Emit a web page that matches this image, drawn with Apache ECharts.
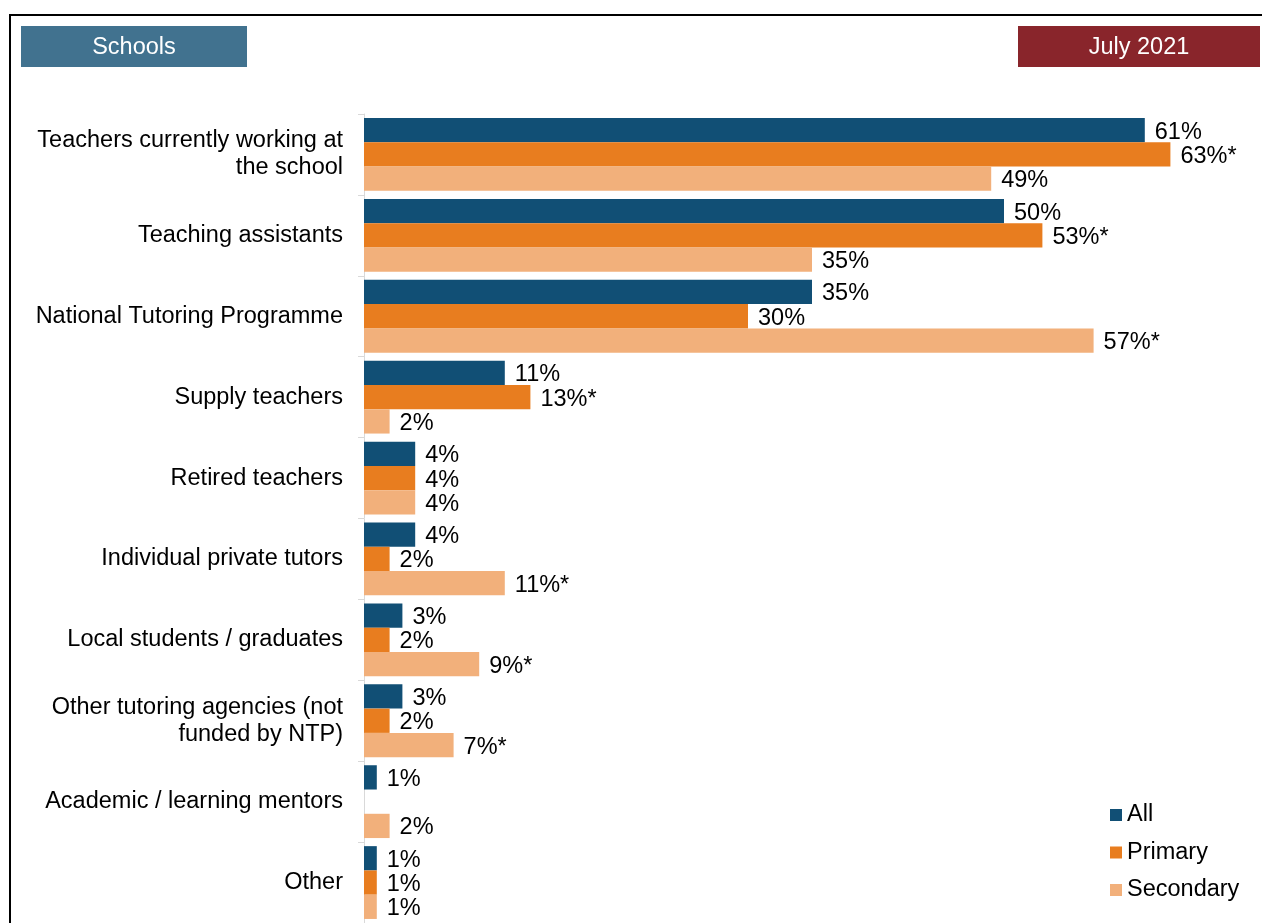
<!DOCTYPE html>
<html>
<head>
<meta charset="utf-8">
<script src="https://cdn.jsdelivr.net/npm/echarts@6/dist/echarts.min.js"></script>
<style>
html,body{margin:0;padding:0;background:#fff;}
#chart{width:1262px;height:923px;}
</style>
</head>
<body>
<div id="chart"></div>
<script>
const categories = [
  "Teachers currently working at\nthe school",
  "Teaching assistants",
  "National Tutoring Programme",
  "Supply teachers",
  "Retired teachers",
  "Individual private tutors",
  "Local students / graduates",
  "Other tutoring agencies (not\nfunded by NTP)",
  "Academic / learning mentors",
  "Other"
];
const seriesNames = ["All", "Primary", "Secondary"];
const allValues = [61, 50, 35, 11, 4, 4, 3, 3, 1, 1];
const primaryValues = [63, 53, 30, 13, 4, 2, 2, 2, null, 1];
const secondaryValues = [49, 35, 57, 2, 4, 11, 9, 7, 2, 1];
const allSig = [false, false, false, false, false, false, false, false, false, false];
const primarySig = [true, true, false, true, false, false, false, false, false, false];
const secondarySig = [false, false, true, false, false, true, true, true, false, false];
const headerLeft = "Schools";
const headerRight = "July 2021";

const colors = ["#114f75", "#e87d1f", "#f2b07b"];
const font = "Arial, 'Liberation Sans', sans-serif";
const fs = 23.5;

function mkSeries(name, values, sig, color) {
  return {
    name: name,
    type: "bar",
    data: values,
    barGap: "0%",
    barCategoryGap: "10%",
    itemStyle: { color: color },
    label: {
      show: true,
      position: "right",
      distance: 10,
      offset: [0, 2],
      color: "#000",
      fontSize: fs,
      fontFamily: font,
      formatter: function (p) {
        if (p.value === null || p.value === undefined) return "";
        return p.value + "%" + (sig[p.dataIndex] ? "*" : "");
      }
    }
  };
}

const chart = echarts.init(document.getElementById("chart"), null, { renderer: "canvas" });
chart.setOption({
  animation: false,
  backgroundColor: "#fff",
  grid: { left: 364, top: 114, width: 896, height: 810, containLabel: false },
  xAxis: {
    type: "value",
    min: 0,
    max: 70,
    show: false
  },
  yAxis: {
    type: "category",
    data: categories,
    inverse: true,
    axisLine: { show: true, lineStyle: { color: "#d9d9d9", width: 1 } },
    axisTick: { show: true, length: 6, lineStyle: { color: "#d9d9d9" } },
    axisLabel: {
      color: "#000",
      fontSize: fs,
      fontFamily: font,
      margin: 21,
      lineHeight: 27,
      align: "right",
      padding: [4, 0, 0, 0]
    },
    splitLine: { show: false }
  },
  legend: {
    data: seriesNames,
    orient: "vertical",
    left: 1105,
    top: 798,
    itemWidth: 12,
    itemHeight: 12,
    itemGap: 13.5,
    icon: "rect",
    textStyle: { fontSize: fs, fontFamily: font, color: "#000" }
  },
  graphic: [
    { type: "rect", shape: { x: 9, y: 14, width: 1253, height: 2 }, style: { fill: "#000" }, silent: true },
    { type: "rect", shape: { x: 9, y: 14, width: 2, height: 909 }, style: { fill: "#000" }, silent: true },
    { type: "rect", shape: { x: 21, y: 26, width: 226, height: 41 }, style: { fill: "#41728f" }, silent: true },
    { type: "text", x: 134, y: 48, style: { text: headerLeft, fill: "#fff", fontSize: fs, fontFamily: font, textAlign: "center", textVerticalAlign: "middle" }, silent: true },
    { type: "rect", shape: { x: 1018, y: 26, width: 242, height: 41 }, style: { fill: "#89252b" }, silent: true },
    { type: "text", x: 1139, y: 48, style: { text: headerRight, fill: "#fff", fontSize: fs, fontFamily: font, textAlign: "center", textVerticalAlign: "middle" }, silent: true }
  ],
  series: [
    mkSeries(seriesNames[0], allValues, allSig, colors[0]),
    mkSeries(seriesNames[1], primaryValues, primarySig, colors[1]),
    mkSeries(seriesNames[2], secondaryValues, secondarySig, colors[2])
  ]
});
</script>
</body>
</html>
